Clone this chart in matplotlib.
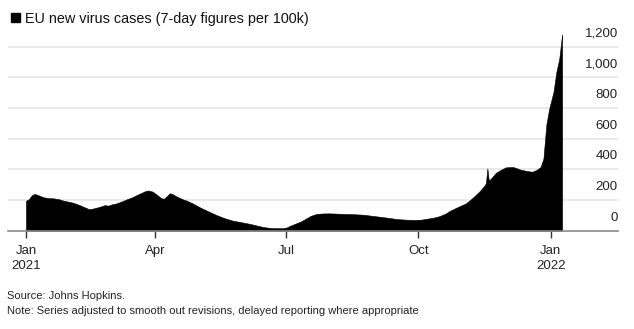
import matplotlib
matplotlib.use('Agg')
import matplotlib.pyplot as plt
import matplotlib.dates as mdates
import matplotlib.transforms as mtransforms
import numpy as np
import pandas as pd

# days since 2021-01-01 and 7-day new cases per 100k
days = [0, 2, 4, 6, 9, 12, 16, 19, 23, 26, 30, 33, 37, 40, 44, 47, 51, 55, 57, 60,
        63, 67, 70, 74, 77, 80, 83, 85, 88, 91, 94, 96, 98, 100, 102, 105, 109, 112,
        116, 121, 126, 132, 138, 144, 150, 156, 160, 165, 170, 175, 179, 181, 184,
        188, 191, 195, 198, 202, 206, 211, 217, 223, 229, 235, 240, 246, 252, 258,
        264, 270, 275, 281, 285, 288, 292, 295, 299, 302, 306, 309, 312, 316, 319,
        320, 321, 322, 324, 327, 331, 334, 339, 344, 348, 352, 355, 358, 360, 362,
        364, 367, 369, 371, 373]
cases = [195, 205, 230, 240, 230, 218, 212, 211, 205, 196, 188, 182, 168, 156, 140,
         145, 155, 167, 163, 172, 178, 192, 204, 218, 232, 245, 258, 262, 255, 235,
         212, 208, 225, 244, 238, 222, 205, 195, 178, 152, 130, 104, 82, 65, 55, 44,
         35, 24, 18, 16, 17, 20, 33, 48, 59, 80, 96, 109, 112, 113, 111, 109, 107,
         104, 98, 91, 84, 76, 72, 70, 72, 81, 88, 96, 112, 130, 148, 161, 178, 200,
         225, 261, 295, 310, 406, 326, 345, 378, 400, 413, 415, 398, 390, 384, 395,
         415, 470, 690, 795, 905, 1035, 1120, 1280]

yticks = [0, 200, 400, 600, 800, 1000, 1200]
xtick_dates = ['2021-01-01', '2021-04-01', '2021-07-01', '2021-10-01', '2022-01-01']
xtick_labels = ['Jan\n2021', 'Apr', 'Jul', 'Oct', 'Jan\n2022']

start = pd.Timestamp('2021-01-01')
dates = [start + pd.Timedelta(days=d) for d in days]

plt.rcParams['font.family'] = ['Liberation Sans', 'DejaVu Sans']

fig = plt.figure(figsize=(6.34, 3.29), dpi=100)
ax = fig.add_axes([0.0126, 0.2988, 0.962, 0.6064])

ax.fill_between(dates, 0, cases, color='black', linewidth=0.4, edgecolor='black')

ax.set_ylim(0, 1300)
ax.set_xlim(start - pd.Timedelta(days=12.5), start + pd.Timedelta(days=411.8))

# horizontal grid
for v in yticks[1:]:
    ax.axhline(v, color='#e3e3e3', linewidth=1.1, zorder=0)

# y labels sit above their grid lines on the right
trans = mtransforms.blended_transform_factory(ax.transAxes, ax.transData)
offset = mtransforms.ScaledTranslation(0, 5 / 72, fig.dpi_scale_trans)
for v in yticks:
    ax.text(1.0, v, f'{v:,}', transform=trans + offset, ha='right', va='bottom',
            fontsize=9.5, color='#222222')

ax.set_yticks([])
for s in ['top', 'right', 'left']:
    ax.spines[s].set_visible(False)
ax.spines['bottom'].set_color('#8a8a8a')
ax.spines['bottom'].set_linewidth(1.2)

ax.set_xticks([pd.Timestamp(d) for d in xtick_dates])
ax.set_xticklabels(xtick_labels, fontsize=9.5, color='#222222', linespacing=1.35)
ax.tick_params(axis='x', length=5, width=1, color='#333333', pad=5)

# title with square marker
fig.patches.append(plt.Rectangle((11 / 634, 1 - 22.3 / 329), 9 / 634, 9 / 329,
                                 transform=fig.transFigure, color='black'))
fig.text(25 / 634, 1 - 23 / 329, 'EU new virus cases (7-day figures per 100k)',
         fontsize=10.4, color='#111111', va='baseline')

fig.text(7 / 634, 1 - 299 / 329, 'Source: Johns Hopkins.', fontsize=8.0,
         color='#222222', va='baseline')
fig.text(7 / 634, 1 - 314 / 329,
         'Note: Series adjusted to smooth out revisions, delayed reporting where appropriate',
         fontsize=8.0, color='#222222', va='baseline')

fig.savefig('out.png', dpi=100)
